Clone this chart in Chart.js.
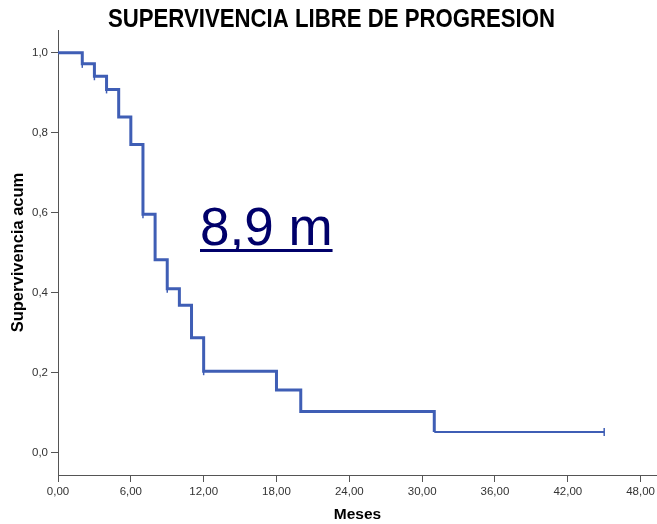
<!DOCTYPE html>
<html>
<head>
<meta charset="utf-8">
<script src="https://cdn.jsdelivr.net/npm/chart.js@4.4.1/dist/chart.umd.min.js"></script>
<style>
  body { margin: 0; background: #fff; }
</style>
</head>
<body>
<canvas id="grafico1" width="657" height="524"></canvas>
<script>
const ctx = document.getElementById("grafico1");

// curva de Kaplan-Meier (meses, supervivencia acumulada)
const meses = [0, 2, 3, 4, 5, 6, 7, 8, 9, 10, 11, 12, 18, 20, 31, 45];
const supervivencia = [1.0, 0.972, 0.941, 0.908, 0.839, 0.77, 0.596, 0.482, 0.409, 0.368, 0.287, 0.203, 0.156, 0.102, 0.051, 0.051];
// casos censurados
const mesesCensura = [2, 3, 4, 7, 9, 12, 45];
const supCensura = [0.972, 0.941, 0.908, 0.596, 0.409, 0.203, 0.051];
// ticks
const xTicks = [0, 6, 12, 18, 24, 30, 36, 42, 48];
const yTicks = [0, 0.2, 0.4, 0.6, 0.8, 1.0];
const titulo = "SUPERVIVENCIA LIBRE DE PROGRESION";
const mediana = "8,9 m";

const azul = "#3f5eb5";
const ejes = "#555555";

// el titulo original esta un poco estirado en vertical
const tituloEstirado = {
  id: "tituloEstirado",
  afterDraw(chart) {
    const c = chart.ctx;
    c.save();
    c.font = "bold 22.2px 'Liberation Sans', Arial, sans-serif";
    c.fillStyle = "#000";
    c.textAlign = "center";
    c.textBaseline = "alphabetic";
    c.translate(331.5, 26.7);
    c.scale(1, 1.13);
    c.fillText(titulo, 0, 0);
    c.restore();
  },
};

const textoMediana = {
  id: "textoMediana",
  afterDraw(chart) {
    const c = chart.ctx;
    c.save();
    c.font = "53px 'Liberation Sans', Arial, sans-serif";
    c.fillStyle = "#00006a";
    c.textBaseline = "alphabetic";
    c.textAlign = "left";
    c.fillText(mediana, 200, 245);
    const w = c.measureText(mediana).width;
    c.fillRect(200, 249, w, 3);
    c.restore();
  },
};

new Chart(ctx, {
  type: "line",
  data: {
    datasets: [
      {
        data: meses.map((m, i) => ({ x: m, y: supervivencia[i] })),
        stepped: "before",
        borderColor: azul,
        borderWidth: 3,
        pointRadius: 0,
        fill: false,
        segment: {
          borderWidth: (s) => (s.p0.parsed.x >= 31 ? 2 : 3),
        },
      },
      {
        data: mesesCensura.map((m, i) => ({ x: m, y: supCensura[i] })),
        showLine: false,
        pointStyle: "line",
        rotation: 90,
        pointRadius: 4,
        pointBorderWidth: 1.5,
        pointBorderColor: azul,
        pointBackgroundColor: azul,
      },
    ],
  },
  options: {
    responsive: false,
    animation: false,
    layout: { autoPadding: false, padding: { left: 0, right: 0, top: 30, bottom: 0 } },
    plugins: {
      legend: { display: false },
      tooltip: { enabled: false },
      title: { display: false },
    },
    scales: {
      x: {
        type: "linear",
        min: 0,
        max: 49.35,
        afterBuildTicks: (s) => { s.ticks = xTicks.map((v) => ({ value: v })); },
        afterFit: (s) => {
          s.height = 49;
          s.paddingLeft = 0;
          s.paddingRight = 0;
        },
        grid: { drawOnChartArea: false, drawTicks: true, tickLength: 7, color: ejes },
        border: { display: true, color: ejes, width: 1 },
        ticks: {
          color: "#333",
          font: { family: "Arial, sans-serif", size: 11.5 },
          padding: 3,
          maxRotation: 0,
          callback: (v) => v.toFixed(2).replace(".", ","),
        },
        title: {
          display: true,
          text: "Meses",
          color: "#000",
          font: { family: "Arial, sans-serif", size: 15.5, weight: "bold" },
          padding: { top: 0, bottom: 0 },
        },
      },
      y: {
        type: "linear",
        min: -0.0567,
        max: 1.0567,
        afterBuildTicks: (s) => { s.ticks = yTicks.map((v) => ({ value: v })); },
        afterFit: (s) => { s.width = 58; },
        grid: { drawOnChartArea: false, drawTicks: true, tickLength: 7, color: ejes },
        border: { display: true, color: ejes, width: 1 },
        ticks: {
          color: "#333",
          font: { family: "Arial, sans-serif", size: 11.5 },
          padding: 3,
          callback: (v) => v.toFixed(1).replace(".", ","),
        },
        title: {
          display: true,
          text: "Supervivencia acum",
          color: "#000",
          font: { family: "Arial, sans-serif", size: 16.5, weight: "bold" },
          padding: { top: 9, bottom: 0 },
        },
      },
    },
  },
  plugins: [tituloEstirado, textoMediana],
});
</script>
</body>
</html>
